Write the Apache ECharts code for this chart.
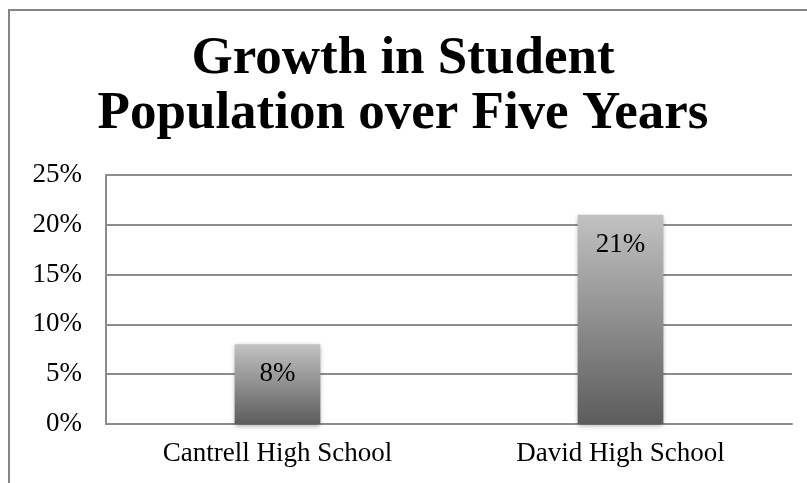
<!DOCTYPE html>
<html>
<head>
<meta charset="utf-8">
<style>
  html, body { margin: 0; padding: 0; background: #ffffff; }
  #chart { width: 807px; height: 483px; }
</style>
<script src="https://cdn.jsdelivr.net/npm/echarts@6/dist/echarts.min.js"></script>
</head>
<body>
<div id="chart"></div>
<script>
// Data
const schools = ['Cantrell High School', 'David High School'];
const growthPct = [8, 21];
const yTicks = [0, 5, 10, 15, 20, 25];

const serif = '"Liberation Serif", "Times New Roman", serif';
const lineGray = '#8c8c8c';

const chart = echarts.init(document.getElementById('chart'), null, { renderer: 'canvas' });

chart.setOption({
  backgroundColor: '#ffffff',
  animation: false,
  title: {
    text: 'Growth in Student\nPopulation over Five Years',
    left: 398,
    top: 27,
    textAlign: 'center',
    textStyle: {
      fontFamily: serif,
      fontWeight: 'bold',
      fontSize: 53,
      lineHeight: 55,
      color: '#000000'
    }
  },
  // Outer chart frame, open on the right and bottom
  graphic: [{
    type: 'rect',
    z: -1,
    shape: { x: 9, y: 10, width: 900, height: 600 },
    style: { fill: 'none', stroke: '#858585', lineWidth: 2 }
  }],
  grid: {
    left: 106,
    right: 15,
    top: 175,
    bottom: 59,
    containLabel: false
  },
  xAxis: {
    type: 'category',
    data: schools,
    axisTick: { show: false },
    axisLine: { show: true, lineStyle: { color: lineGray, width: 2 } },
    axisLabel: {
      fontFamily: serif,
      fontSize: 27,
      color: '#000000',
      margin: 16
    }
  },
  yAxis: {
    type: 'value',
    min: yTicks[0],
    max: yTicks[yTicks.length - 1],
    interval: yTicks[1] - yTicks[0],
    axisLine: { show: true, lineStyle: { color: lineGray, width: 2 } },
    axisTick: { show: false },
    splitLine: { show: true, lineStyle: { color: lineGray, width: 2 } },
    axisLabel: {
      fontFamily: serif,
      fontSize: 27,
      color: '#000000',
      margin: 24,
      formatter: v => v + '%'
    }
  },
  series: [{
    type: 'bar',
    data: growthPct,
    barWidth: '25%',
    itemStyle: {
      color: new echarts.graphic.LinearGradient(0, 0, 0, 1, [
        { offset: 0, color: '#c2c2c2' },
        { offset: 1, color: '#5c5c5c' }
      ]),
      shadowColor: 'rgba(0,0,0,0.35)',
      shadowBlur: 5,
      shadowOffsetY: 2
    },
    label: {
      show: true,
      position: 'insideTop',
      distance: 16,
      fontFamily: serif,
      fontSize: 27,
      lineHeight: 28,
      color: '#000000',
      formatter: p => p.value + '%'
    }
  }]
});
</script>
</body>
</html>
